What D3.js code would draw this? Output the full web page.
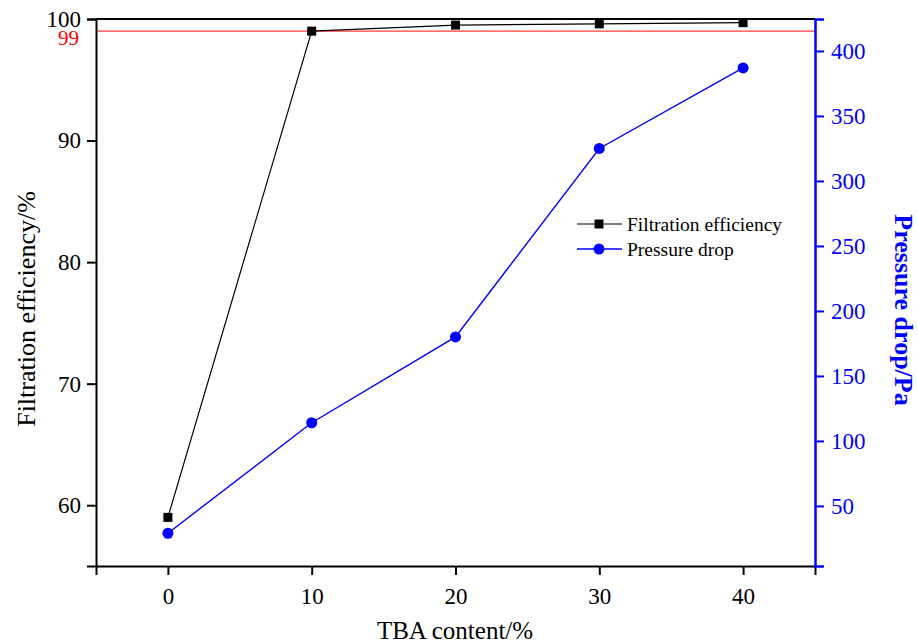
<!DOCTYPE html>
<html>
<head>
<meta charset="utf-8">
<script src="https://cdn.jsdelivr.net/npm/d3@7"></script>
<style>
  body { margin: 0; background: #fff; }
  text { font-family: "Liberation Serif", "Times New Roman", serif; }
</style>
</head>
<body>
<div id="chart"></div>
<script>
// data
const tba = [0, 10, 20, 30, 40];
const efficiency = [59.0, 99.0, 99.5, 99.6, 99.7];
const pressure = [29, 114, 180, 325, 387];
const xTicks = [0, 10, 20, 30, 40];
const leftTicks = [60, 70, 80, 90, 100];
const rightTicks = [50, 100, 150, 200, 250, 300, 350, 400];
const threshold = 99;

const w = 918, h = 644;
const pLeft = 96, pRight = 815, pTop = 19, pBottom = 566;
const blue = "#0000ff";

const svg = d3.select("#chart").append("svg")
  .attr("width", w).attr("height", h);

const x = d3.scaleLinear().domain([-5, 45]).range([pLeft, pRight]);
const yL = d3.scaleLinear().domain([55, 100]).range([pBottom, pTop]);
const yR = d3.scaleLinear().domain([3.8, 424.6]).range([pBottom, pTop]);

// threshold line
svg.append("line")
  .attr("x1", pLeft).attr("x2", pRight)
  .attr("y1", yL(threshold)).attr("y2", yL(threshold))
  .attr("stroke", "#ff3b3b").attr("stroke-width", 1.4);
svg.append("text")
  .attr("x", 79).attr("y", 45)
  .attr("text-anchor", "end").attr("fill", "#ff0000")
  .attr("font-size", 21).text(threshold);

// top border
svg.append("line")
  .attr("x1", pLeft).attr("x2", pRight).attr("y1", pTop).attr("y2", pTop)
  .attr("stroke", "#000").attr("stroke-width", 2);

// bottom axis
const gx = svg.append("g").attr("transform", "translate(0," + pBottom + ")");
gx.call(d3.axisBottom(x).tickValues(d3.range(-5, 46, 5)).tickSize(5).tickFormat(""));
gx.call(d3.axisBottom(x).tickValues(xTicks).tickSize(9).tickPadding(13).tickFormat(d3.format("d")));
gx.selectAll("path.domain").attr("stroke-width", 2);
gx.selectAll(".tick line").attr("stroke-width", 2);
gx.selectAll("text").attr("font-size", 23).attr("fill", "#000")
  .style("font-family", "Liberation Serif");

// left axis
const gl = svg.append("g").attr("transform", "translate(" + pLeft + ",0)");
gl.call(d3.axisLeft(yL).tickValues(d3.range(55, 101, 5)).tickSize(5).tickFormat(""));
gl.call(d3.axisLeft(yL).tickValues(leftTicks).tickSize(9).tickPadding(6).tickFormat(d3.format("d")));
gl.selectAll("path.domain").attr("stroke-width", 2);
gl.selectAll(".tick line").attr("stroke-width", 2);
gl.selectAll("text").attr("font-size", 23).attr("fill", "#000")
  .style("font-family", "Liberation Serif");

// right axis
const gr = svg.append("g").attr("transform", "translate(" + pRight + ",0)");
gr.call(d3.axisRight(yR).tickValues(d3.range(25, 425, 25)).tickSize(5).tickFormat(""));
gr.call(d3.axisRight(yR).tickValues(rightTicks).tickSize(9).tickPadding(7).tickFormat(d3.format("d")));
gr.selectAll("path.domain").attr("stroke", blue).attr("stroke-width", 2.5);
gr.selectAll(".tick line").attr("stroke", blue).attr("stroke-width", 2);
gr.selectAll("text").attr("font-size", 23).attr("fill", blue)
  .style("font-family", "Liberation Serif");

// series lines
const effLine = d3.line().x((d, i) => x(tba[i])).y(d => yL(d));
const preLine = d3.line().x((d, i) => x(tba[i])).y(d => yR(d));

svg.append("path").datum(efficiency).attr("d", effLine)
  .attr("fill", "none").attr("stroke", "#000").attr("stroke-width", 1.2);
svg.append("path").datum(pressure).attr("d", preLine)
  .attr("fill", "none").attr("stroke", blue).attr("stroke-width", 1.4);

svg.selectAll("rect.eff").data(efficiency).enter().append("rect")
  .attr("class", "eff")
  .attr("x", (d, i) => x(tba[i]) - 4.5).attr("y", d => yL(d) - 4.5)
  .attr("width", 9).attr("height", 9).attr("fill", "#000");
svg.selectAll("circle.pre").data(pressure).enter().append("circle")
  .attr("class", "pre")
  .attr("cx", (d, i) => x(tba[i])).attr("cy", d => yR(d))
  .attr("r", 5.5).attr("fill", blue);

// legend
const lg = svg.append("g").attr("transform", "translate(577,224)");
lg.append("line").attr("x1", 0).attr("x2", 45).attr("stroke", "#000").attr("stroke-width", 1.2);
lg.append("rect").attr("x", 17.5).attr("y", -4.5).attr("width", 9).attr("height", 9).attr("fill", "#000");
lg.append("text").attr("x", 50).attr("y", 7).attr("font-size", 19.5).text("Filtration efficiency");
lg.append("line").attr("x1", 0).attr("x2", 45).attr("y1", 25).attr("y2", 25)
  .attr("stroke", blue).attr("stroke-width", 1.4);
lg.append("circle").attr("cx", 22).attr("cy", 25).attr("r", 5.5).attr("fill", blue);
lg.append("text").attr("x", 50).attr("y", 32).attr("font-size", 19.5).text("Pressure drop");

// axis titles
svg.append("text").attr("x", 455).attr("y", 639)
  .attr("text-anchor", "middle").attr("font-size", 25).text("TBA content/%");
svg.append("text")
  .attr("transform", "translate(35,309) rotate(-90)")
  .attr("text-anchor", "middle").attr("font-size", 26).text("Filtration efficiency/%");
svg.append("text")
  .attr("transform", "translate(895,310) rotate(90)")
  .attr("text-anchor", "middle").attr("font-size", 26).attr("font-weight", "bold")
  .attr("fill", blue).text("Pressure drop/Pa");
</script>
</body>
</html>
